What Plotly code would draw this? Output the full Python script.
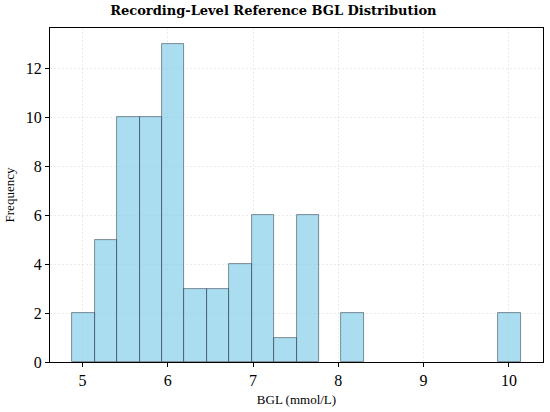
import numpy as np
import plotly.graph_objects as go

# histogram of recording-level reference BGL (20 equal bins)
bin_start = 4.883
bin_end = 10.137
counts = [2, 5, 10, 10, 13, 3, 3, 4, 6, 1, 6, 0, 2, 0, 0, 0, 0, 0, 0, 2]
x_ticks = [5, 6, 7, 8, 9, 10]
y_ticks = [0, 2, 4, 6, 8, 10, 12]

edges = np.linspace(bin_start, bin_end, len(counts) + 1)
centers = (edges[:-1] + edges[1:]) / 2
bin_width = edges[1] - edges[0]
heights = [c if c > 0 else None for c in counts]  # empty bins draw nothing

serif = "Liberation Serif"
grid_col = "rgba(190,190,190,0.3)"

fig = go.Figure()
fig.add_trace(go.Bar(x=centers, y=heights, width=bin_width,
                     marker=dict(color="rgba(135,206,235,0.7)",
                                 line=dict(color="rgba(20,30,40,0.6)", width=0.8))))

span = bin_end - bin_start
fig.update_layout(
    width=550, height=412,
    margin=dict(l=50, r=7, t=28, b=50),
    plot_bgcolor="white", paper_bgcolor="white",
    showlegend=False, bargap=0,
    title=dict(text="<b>Recording-Level Reference BGL Distribution</b>",
               x=0.497, xanchor="center", y=0.985, yanchor="top",
               font=dict(family="DejaVu Serif", size=13, color="black")),
    font=dict(family=serif, color="black"),
)
fig.update_xaxes(range=[bin_start - 0.05 * span, bin_end + 0.05 * span],
                 tickvals=x_ticks, ticks="outside", ticklen=4, tickcolor="black",
                 tickfont=dict(family=serif, size=16), showline=True, linecolor="black",
                 linewidth=1, mirror=True, showgrid=True, gridcolor=grid_col,
                 griddash="2px,2px", zeroline=False, automargin=False,
                 title=dict(text="BGL (mmol/L)", font=dict(family=serif, size=13), standoff=6))
fig.update_yaxes(range=[0, 13 * 1.05], tickvals=y_ticks, ticks="outside", ticklen=4,
                 tickcolor="black", tickfont=dict(family=serif, size=16), showline=True,
                 linecolor="black", linewidth=1, mirror=True, showgrid=True,
                 gridcolor=grid_col, griddash="2px,2px", zeroline=False, automargin=False,
                 title=dict(text="Frequency", font=dict(family=serif, size=13), standoff=8))

# drop the page's default body margin so the figure sits at the window origin
fig.write_html("out.html", config={"displayModeBar": False},
               post_script="document.body.style.margin='0';")
